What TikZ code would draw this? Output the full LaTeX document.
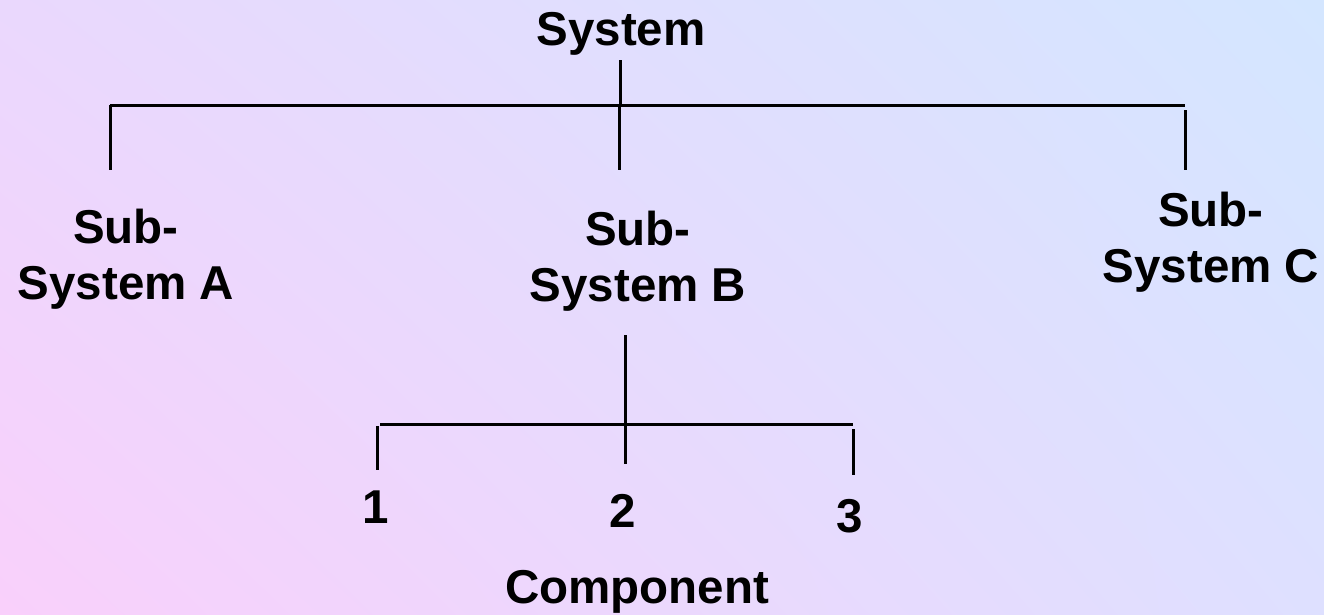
\documentclass[tikz,border=0pt]{standalone}
\usepackage{fontspec}
\setmainfont{Liberation Sans}
\usetikzlibrary{shadings}
\definecolor{bgUL}{RGB}{234,216,253}
\definecolor{bgUR}{RGB}{212,230,255}
\definecolor{bgLL}{RGB}{249,208,251}
\definecolor{bgLR}{RGB}{222,224,255}
\begin{document}
\begin{tikzpicture}[x=1pt,y=-1pt,
    label/.style={font=\fontsize{47.5}{56}\selectfont\bfseries, align=center, inner sep=0pt, text=black},
    link/.style={line width=3pt, black}]
  % soft diagonal background
  \shade[upper left=bgUL, upper right=bgUR, lower left=bgLL, lower right=bgLR]
    (0,0) rectangle (1324,614);
  \useasboundingbox (0,0) rectangle (1324,614);

  % labels
  \node[label, anchor=base] (sys) at (621,45) {System};
  \node[label, anchor=north] (subA) at (126,209) {Sub-\\System A};
  \node[label, anchor=north] (subB) at (638,211) {Sub-\\System B};
  \node[label, anchor=north] (subC) at (1211,192) {Sub-\\System C};
  \node[label, anchor=base] (c1) at (376,523) {1};
  \node[label, anchor=base] (c2) at (623,527) {2};
  \node[label, anchor=base] (c3) at (850,532) {3};
  \node[label, anchor=base] (comp) at (637,603) {Component};

  % upper branch points
  \coordinate (sysTop) at (620,60);
  \coordinate (barMid) at (620,105);
  \coordinate (barL) at (110,105);
  \coordinate (barR) at (1185,105);
  \coordinate (dropA) at (110,170);
  \coordinate (dropBtop) at (619,105);
  \coordinate (dropB) at (619,170);
  \coordinate (dropCtop) at (1185,110);
  \coordinate (dropC) at (1185,170);

  \draw[link] (sysTop) -- (barMid);
  \draw[link] (barL) -- (barR);
  \draw[link] (barL) -- (dropA);
  \draw[link] (dropBtop) -- (dropB);
  \draw[link] (dropCtop) -- (dropC);

  % lower branch points
  \coordinate (bTop) at (625,335);
  \coordinate (bBar) at (625,424);
  \coordinate (lbarL) at (380,424);
  \coordinate (lbarR) at (853,424);
  \coordinate (d1top) at (377,426);
  \coordinate (d1) at (377,470);
  \coordinate (d2) at (625,464);
  \coordinate (d3top) at (853,429);
  \coordinate (d3) at (853,475);

  \draw[link] (bTop) -- (bBar);
  \draw[link] (lbarL) -- (lbarR);
  \draw[link] (bBar) -- (d2);
  \draw[link] (d1top) -- (d1);
  \draw[link] (d3top) -- (d3);
\end{tikzpicture}
\end{document}
